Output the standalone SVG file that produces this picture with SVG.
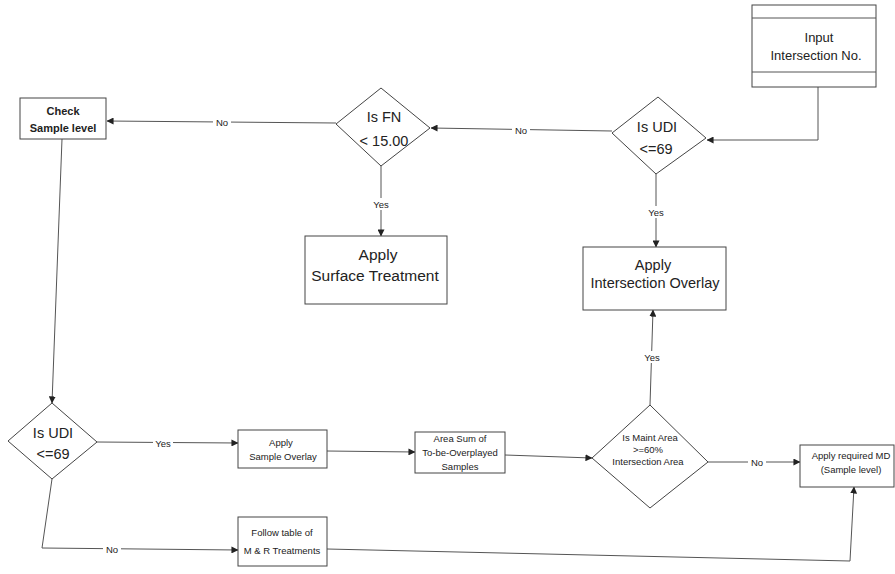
<svg xmlns="http://www.w3.org/2000/svg" width="895" height="574" viewBox="0 0 895 574">
  <style>
    .shape { fill: #ffffff; stroke: #444444; stroke-width: 1; }
    .wire { fill: none; stroke: #555555; stroke-width: 1; }
    text { font-family: "Liberation Sans", Arial, sans-serif; fill: #222222; text-anchor: middle; }
    .big { font-size: 14.5px; }
    .bigger { font-size: 15.5px; }
    .mid { font-size: 13px; }
    .small { font-size: 9.5px; }
    .lbl { font-size: 9.5px; }
    .bold { font-weight: bold; font-size: 11px; }
  </style>
  <defs>
    <marker id="arrow" viewBox="0 0 8 8" refX="7.5" refY="4" markerWidth="7" markerHeight="7" markerUnits="userSpaceOnUse" orient="auto">
      <path d="M0,0 L8,4 L0,8 Z" fill="#222222"/>
    </marker>
  </defs>
  <rect width="895" height="574" fill="#ffffff"/>

  <!-- connectors -->
  <g id="connectors">
    <polyline class="wire" points="818,87 818,140 707,140" marker-end="url(#arrow)"/>
    <line class="wire" x1="612" y1="131" x2="431" y2="128" marker-end="url(#arrow)"/>
    <line class="wire" x1="336" y1="123" x2="107" y2="121" marker-end="url(#arrow)"/>
    <line class="wire" x1="381" y1="166" x2="381" y2="236" marker-end="url(#arrow)"/>
    <line class="wire" x1="656" y1="174" x2="656" y2="247" marker-end="url(#arrow)"/>
    <line class="wire" x1="62" y1="139" x2="52" y2="403" marker-end="url(#arrow)"/>
    <line class="wire" x1="97" y1="442" x2="238" y2="443" marker-end="url(#arrow)"/>
    <line class="wire" x1="327" y1="451" x2="415" y2="452" marker-end="url(#arrow)"/>
    <line class="wire" x1="505" y1="455" x2="592" y2="458" marker-end="url(#arrow)"/>
    <line class="wire" x1="650" y1="405" x2="653" y2="310" marker-end="url(#arrow)"/>
    <line class="wire" x1="708" y1="462" x2="800" y2="462" marker-end="url(#arrow)"/>
    <polyline class="wire" points="52,479 42,548 238,550" marker-end="url(#arrow)"/>
    <polyline class="wire" points="327,549 850,561 854,487" marker-end="url(#arrow)"/>

    <!-- branch labels -->
    <rect x="512" y="124" width="18" height="11" fill="#ffffff"/>
    <text class="lbl" x="521" y="134">No</text>
    <rect x="213" y="116" width="18" height="11" fill="#ffffff"/>
    <text class="lbl" x="222" y="126">No</text>
    <rect x="372" y="198" width="18" height="12" fill="#ffffff"/>
    <text class="lbl" x="381" y="208">Yes</text>
    <rect x="647" y="206" width="18" height="12" fill="#ffffff"/>
    <text class="lbl" x="656" y="216">Yes</text>
    <rect x="642" y="351" width="20" height="12" fill="#ffffff"/>
    <text class="lbl" x="652" y="361">Yes</text>
    <rect x="153" y="437" width="20" height="12" fill="#ffffff"/>
    <text class="lbl" x="163" y="447">Yes</text>
    <rect x="748" y="456" width="18" height="11" fill="#ffffff"/>
    <text class="lbl" x="757" y="466">No</text>
    <rect x="103" y="543" width="18" height="11" fill="#ffffff"/>
    <text class="lbl" x="112" y="553">No</text>
  </g>

  <!-- nodes -->
  <g id="input">
    <rect class="shape" x="752" y="5" width="124" height="82"/>
    <line class="wire" x1="752" y1="18" x2="876" y2="18"/>
    <line class="wire" x1="752" y1="72" x2="876" y2="72"/>
    <text class="mid" x="819" y="42">Input</text>
    <text class="mid" x="816" y="60">Intersection No.</text>
  </g>

  <g id="udi-top">
    <polygon class="shape" points="658,97 706,138 656,174 612,133"/>
    <text class="big" x="657" y="132">Is UDI</text>
    <text class="big" x="656" y="154">&lt;=69</text>
  </g>

  <g id="fn">
    <polygon class="shape" points="381,88 430,128 381,166 336,124"/>
    <text class="big" x="384" y="122">Is FN</text>
    <text class="big" x="384" y="146">&lt; 15.00</text>
  </g>

  <g id="check">
    <rect class="shape" x="20" y="98" width="86" height="41"/>
    <text class="bold" x="63" y="115">Check</text>
    <text class="bold" x="63" y="132">Sample level</text>
  </g>

  <g id="surface">
    <rect class="shape" x="305" y="236" width="142" height="68"/>
    <text class="bigger" x="378" y="260">Apply</text>
    <text class="bigger" x="375" y="281">Surface Treatment</text>
  </g>

  <g id="int-overlay">
    <rect class="shape" x="583" y="247" width="143" height="63"/>
    <text class="big" x="653" y="270">Apply</text>
    <text class="big" x="655" y="288">Intersection Overlay</text>
  </g>

  <g id="udi-bottom">
    <polygon class="shape" points="52,403 97,442 52,479 8,441"/>
    <text class="big" x="53" y="438">Is UDI</text>
    <text class="big" x="53" y="459">&lt;=69</text>
  </g>

  <g id="sample-overlay">
    <rect class="shape" x="238" y="430" width="89" height="38"/>
    <text class="small" x="281" y="446">Apply</text>
    <text class="small" x="283" y="460">Sample Overlay</text>
  </g>

  <g id="area-sum">
    <rect class="shape" x="415" y="432" width="90" height="41"/>
    <text class="small" x="460" y="442">Area Sum of</text>
    <text class="small" x="460" y="456">To-be-Overplayed</text>
    <text class="small" x="460" y="470">Samples</text>
  </g>

  <g id="maint">
    <polygon class="shape" points="650,405 708,462 650,508 592,458"/>
    <text class="small" x="650" y="441">Is Maint Area</text>
    <text class="small" x="648" y="453">&gt;=60%</text>
    <text class="small" x="648" y="465">Intersection Area</text>
  </g>

  <g id="required-md">
    <rect class="shape" x="800" y="445" width="94" height="42"/>
    <text class="small" x="851" y="459">Apply required MD</text>
    <text class="small" x="851" y="473">(Sample level)</text>
  </g>

  <g id="mr-table">
    <rect class="shape" x="238" y="517" width="89" height="49"/>
    <text class="small" x="282" y="536">Follow table of</text>
    <text class="small" x="282" y="554">M &amp; R Treatments</text>
  </g>
</svg>
